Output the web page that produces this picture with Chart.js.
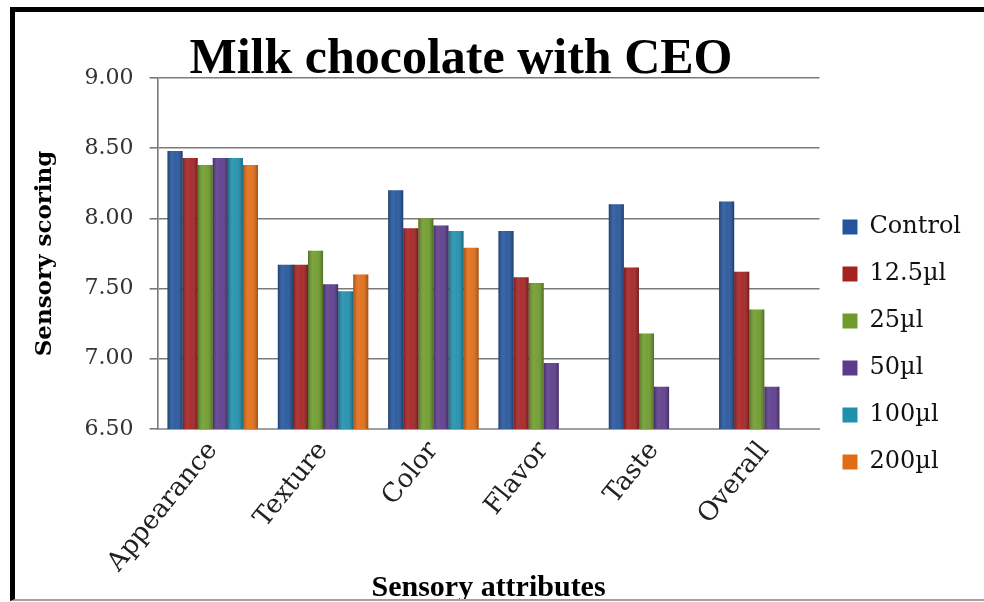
<!DOCTYPE html>
<html>
<head>
<meta charset="utf-8">
<title>Milk chocolate with CEO</title>
<script src="https://cdn.jsdelivr.net/npm/chart.js@4/dist/chart.umd.min.js"></script>
<style>
  html, body { margin: 0; padding: 0; background: #fff; }
  body { width: 984px; height: 602px; position: relative; overflow: hidden; }
  .frame {
    position: absolute; left: 10px; top: 7px; width: 990px; height: 594px;
    box-sizing: border-box;
    border-left: 5px solid #000; border-top: 5px solid #000; border-bottom: 2px solid #a0a0a0;
  }
  #chart { position: absolute; left: 15px; top: 12px; }
</style>
</head>
<body>
<div class="frame"></div>
<canvas id="chart" width="969" height="587"></canvas>
<script>
// Sensory attributes scored for each CEO dose
const categories = ['Appearance', 'Texture', 'Color', 'Flavor', 'Taste', 'Overall'];
const seriesNames = ['Control', '12.5µl', '25µl', '50µl', '100µl', '200µl'];

const control = [8.48, 7.67, 8.20, 7.91, 8.10, 8.12];
const dose12_5 = [8.43, 7.67, 7.93, 7.58, 7.65, 7.62];
const dose25 = [8.38, 7.77, 8.00, 7.54, 7.18, 7.35];
const dose50 = [8.43, 7.53, 7.95, 6.97, 6.80, 6.80];
const dose100 = [8.43, 7.48, 7.91, null, null, null];
const dose200 = [8.38, 7.60, 7.79, null, null, null];

const yTicks = [6.5, 7.0, 7.5, 8.0, 8.5, 9.0];

const seriesValues = [control, dose12_5, dose25, dose50, dose100, dose200];
const seriesColors = ['#24559c', '#a52122', '#6e9b2b', '#5c3b8c', '#1f8fae', '#e26c14'];

const serif = '"DejaVu Serif", serif';

// Chart heading drawn above the plot
const headingPlugin = {
  id: 'heading',
  afterDraw(chart, args, opts) {
    const ctx = chart.ctx;
    ctx.save();
    ctx.font = 'bold 50px "Liberation Serif", serif';
    ctx.fillStyle = '#000';
    ctx.textAlign = 'center';
    ctx.textBaseline = 'alphabetic';
    ctx.fillText(opts.text, opts.x, opts.y);
    ctx.restore();
  }
};

// Cylinder-like shading laid over each bar the library has placed
const barShadePlugin = {
  id: 'barShade',
  afterDatasetsDraw(chart) {
    const ctx = chart.ctx;
    const area = chart.chartArea;
    ctx.save();
    ctx.beginPath();
    ctx.rect(area.left, area.top, area.right - area.left, area.bottom - area.top);
    ctx.clip();
    chart.data.datasets.forEach((ds, di) => {
      chart.getDatasetMeta(di).data.forEach(bar => {
        const p = bar.getProps(['x', 'y', 'base', 'width'], true);
        if (!isFinite(p.y) || !isFinite(p.x)) return;
        const left = p.x - p.width / 2;
        const top = Math.min(p.y, p.base);
        const bottom = Math.min(Math.max(p.y, p.base), area.bottom);
        const g = ctx.createLinearGradient(left, 0, left + p.width, 0);
        g.addColorStop(0, 'rgba(0,0,0,0.28)');
        g.addColorStop(0.35, 'rgba(255,255,255,0.10)');
        g.addColorStop(0.55, 'rgba(255,255,255,0.06)');
        g.addColorStop(1, 'rgba(0,0,0,0.30)');
        ctx.fillStyle = g;
        ctx.fillRect(left, top, p.width, bottom - top);
      });
    });
    ctx.restore();
  }
};

new Chart(document.getElementById('chart'), {
  type: 'bar',
  data: {
    labels: categories,
    datasets: seriesNames.map((name, i) => ({
      label: name,
      data: seriesValues[i],
      backgroundColor: seriesColors[i],
      borderWidth: 0
    }))
  },
  plugins: [headingPlugin, barShadePlugin],
  options: {
    responsive: false,
    devicePixelRatio: 1,
    animation: false,
    datasets: { bar: { barPercentage: 1.0, categoryPercentage: 0.82 } },
    layout: { padding: { top: 66, right: 13, left: 0, bottom: 0 } },
    plugins: {
      heading: { text: 'Milk chocolate with CEO', x: 446, y: 61 },
      title: { display: false },
      tooltip: { enabled: false },
      legend: {
        position: 'right',
        align: 'center',
        title: { display: true, text: '', font: { size: 10 }, padding: 0 },
        labels: {
          boxWidth: 15,
          boxHeight: 15,
          padding: 23,
          color: '#111',
          font: { family: serif, size: 24 }
        }
      }
    },
    scales: {
      x: {
        grid: { display: false, drawTicks: false },
        border: { display: true, color: '#a0a0a0', width: 2 },
        ticks: {
          color: '#222',
          font: { family: serif, size: 26 },
          minRotation: 51,
          maxRotation: 51,
          padding: 7,
          autoSkip: false
        },
        title: {
          display: true,
          text: 'Sensory attributes',
          color: '#000',
          font: { family: '"Liberation Serif", serif', size: 30, weight: 'bold', lineHeight: 1 },
          padding: { top: -12, bottom: -4 }
        }
      },
      y: {
        min: 6.5,
        max: 9.0,
        afterBuildTicks: scale => { scale.ticks = yTicks.map(v => ({ value: v })); },
        grid: { color: '#7a7a7a', lineWidth: 1.6, drawTicks: true, tickLength: 8 },
        border: { display: true, color: '#7a7a7a', width: 1.6 },
        ticks: {
          color: '#333',
          font: { family: serif, size: 22 },
          padding: 16,
          callback: v => Number(v).toFixed(2)
        },
        title: {
          display: true,
          text: 'Sensory scoring',
          color: '#000',
          font: { family: serif, size: 23, weight: 'bold' },
          padding: { top: 16, bottom: 10 }
        }
      }
    }
  }
});
</script>
</body>
</html>
